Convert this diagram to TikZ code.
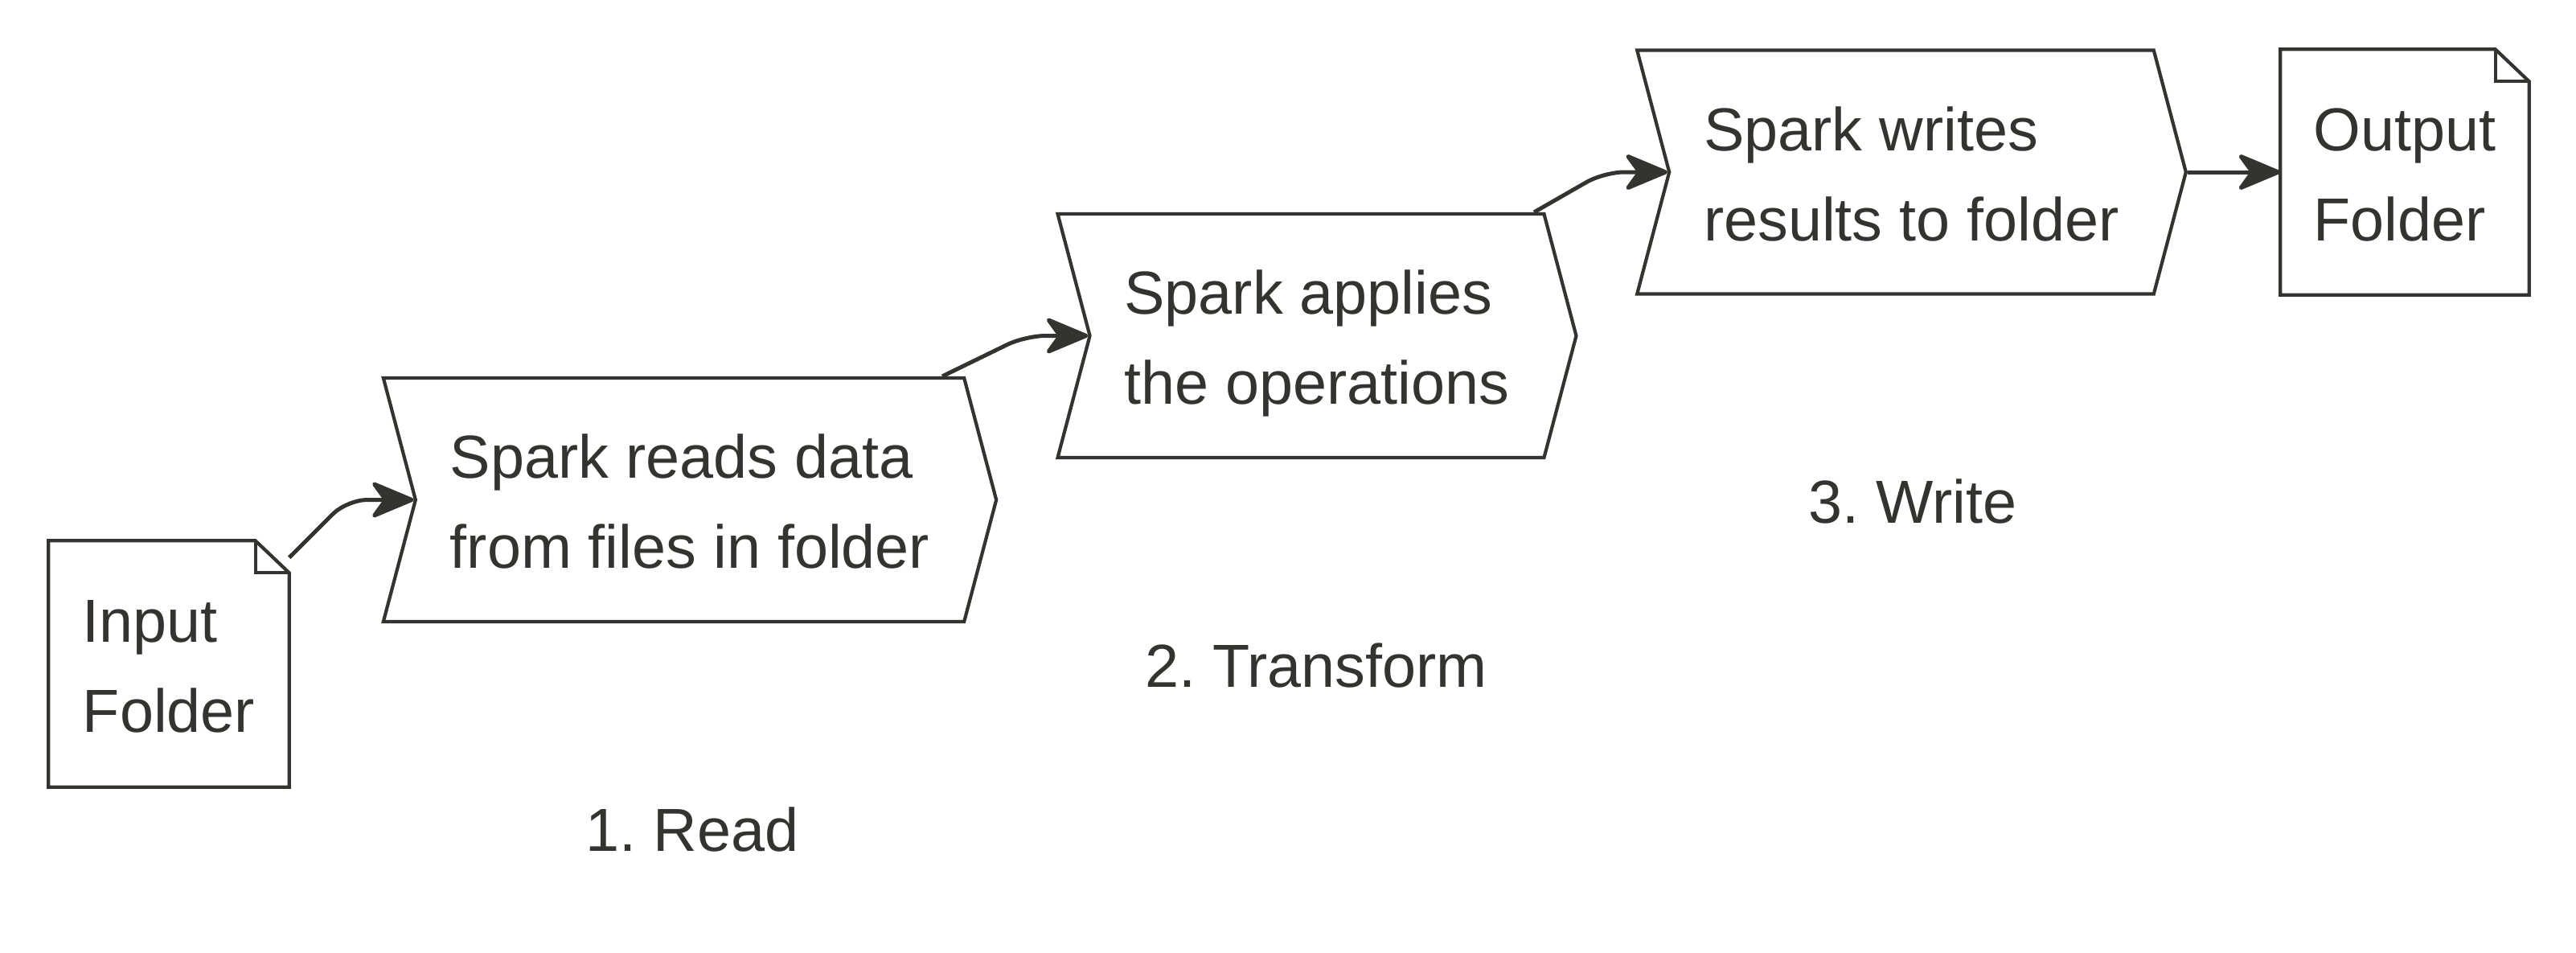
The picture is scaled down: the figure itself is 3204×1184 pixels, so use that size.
\documentclass[tikz,border=0pt]{standalone}
\usepackage{fontspec}
\setmainfont{Liberation Sans}
\usetikzlibrary{shapes.symbols,arrows.meta,calc}
\definecolor{ink}{RGB}{51,51,47}
\frenchspacing
\def\boxfont{\fontsize{21.5pt}{31.9pt}\selectfont}
\def\tstrut{\rule[-5pt]{0pt}{26.6pt}}
\def\docoutline(#1){\draw[outline] (#1.north west) -- ([xshift=-4.2mm]#1.north east) -- ([yshift=-4mm]#1.north east) -- (#1.south east) -- (#1.south west) -- cycle;
	\draw[outline] ([xshift=-4.2mm]#1.north east) |- ([yshift=-4mm]#1.north east);}

\begin{document}
\begin{tikzpicture}[x=0.1mm, y=-0.1mm,
	outline/.style={draw=ink, line width=0.42mm, line join=miter},
	stepbox/.style={signal, signal from=west, signal to=east, signal pointer angle=150.4, outline, inner xsep=4.3mm, inner ysep=0pt, minimum height=30.3mm, align=left, text=ink, font=\boxfont},
	folder/.style={rectangle, minimum width=29.8mm, minimum height=30.5mm, inner sep=0pt, align=left, text=ink, font=\boxfont},
	steplabel/.style={anchor=base, text=ink, font=\boxfont},
	conn/.style={draw=ink, line width=0.5mm, rounded corners=2.5mm, -{Stealth[length=6mm, width=5mm, inset=1.8mm, round]}}]
			%%%%% START %%%%%
			\useasboundingbox (0,0) rectangle (3204,1184);
			
			\node[folder] (in) at (210, 825.5) {\tstrut Input\\\tstrut Folder};
			\docoutline(in)
			
			\node[stepbox] (read) at (858, 621.5) {\tstrut Spark reads data\\\tstrut from files in folder};
			\node[stepbox] (transform) at (1638, 417.5) {\tstrut Spark applies\\\tstrut the operations};
			\node[stepbox] (write) at (2377.5, 214) {\tstrut Spark writes\\\tstrut results to folder};
			
			\node[folder, minimum width=30.8mm, minimum height=30.4mm] (out) at (2991, 214) {\tstrut Output\\\tstrut Folder};
			\docoutline(out)
			
			\node[steplabel] (readlbl) at (861, 1058) {1. Read};
			\node[steplabel] (transformlbl) at (1637, 854) {2. Transform};
			\node[steplabel] (writelbl) at (2379, 650) {3. Write};
			
			\draw[conn] ([yshift=-2.1mm]in.north east) -- ([xshift=-8.3mm]read.west) -- (read.west);
			\draw[conn] ([xshift=31.4mm]read.north) -- ([xshift=-7.8mm]transform.west) -- (transform.west);
			\draw[conn] ([xshift=27mm]transform.north) -- ([xshift=-7.9mm]write.west) -- (write.west);
			\draw[conn] (write.east) -- (out.west);
			%%%%% END %%%%%
\end{tikzpicture}
\end{document}
